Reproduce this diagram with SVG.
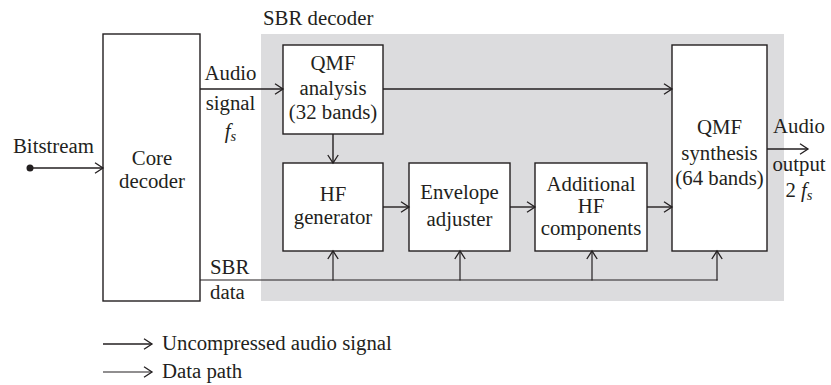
<svg xmlns="http://www.w3.org/2000/svg" width="831" height="385" viewBox="0 0 831 385">
  <style>
    text { font-family: "Liberation Serif", "Times New Roman", serif; font-size: 20.8px; fill: #231f20; }
    .c { text-anchor: middle; }
    .box { fill: #ffffff; stroke: #231f20; stroke-width: 1.4; }
    .ln { fill: none; stroke: #231f20; stroke-width: 1.4; }
    .dl { fill: none; stroke: #231f20; stroke-width: 1.2; }
    .it { font-style: italic; }
    .sub { font-style: italic; font-size: 14.5px; }
  </style>
  <defs>
    <marker id="arr" markerUnits="userSpaceOnUse" markerWidth="12" markerHeight="12" refX="9" refY="6" orient="auto">
      <path d="M1,0.8 L9,6 L1,11.2" fill="none" stroke="#231f20" stroke-width="1.3"/>
    </marker>
  </defs>

  <!-- SBR decoder region -->
  <g id="sbr-region">
    <rect x="261" y="34" width="523" height="267" fill="#dcdcde"/>
    <text x="263" y="25">SBR decoder</text>
  </g>

  <g id="core-decoder">
    <rect class="box" x="103" y="34" width="97" height="267"/>
    <text class="c" x="152" y="165">Core</text>
    <text class="c" x="152" y="188">decoder</text>
  </g>

  <g id="qmf-analysis">
    <rect class="box" x="283" y="45" width="100" height="89"/>
    <text class="c" x="333" y="70">QMF</text>
    <text class="c" x="333" y="95">analysis</text>
    <text class="c" x="333" y="119">(32 bands)</text>
  </g>

  <g id="hf-generator">
    <rect class="box" x="283" y="163" width="100" height="88"/>
    <text class="c" x="333" y="201">HF</text>
    <text class="c" x="333" y="224">generator</text>
  </g>

  <g id="envelope-adjuster">
    <rect class="box" x="409" y="163" width="101" height="88"/>
    <text class="c" x="459.5" y="199">Envelope</text>
    <text class="c" x="459.5" y="226">adjuster</text>
  </g>

  <g id="additional-hf">
    <rect class="box" x="535" y="163" width="112" height="88"/>
    <text class="c" x="591" y="191">Additional</text>
    <text class="c" x="591" y="213">HF</text>
    <text class="c" x="591" y="235">components</text>
  </g>

  <g id="qmf-synthesis">
    <rect class="box" x="672" y="45" width="95" height="206"/>
    <text class="c" x="719.5" y="134">QMF</text>
    <text class="c" x="719.5" y="160">synthesis</text>
    <text class="c" x="719.5" y="185">(64 bands)</text>
  </g>

  <g id="connectors">
    <!-- bitstream input -->
    <circle cx="30" cy="168" r="3.5" fill="#231f20"/>
    <line class="ln" x1="30" y1="168" x2="103" y2="168" marker-end="url(#arr)"/>
    <!-- audio signal path -->
    <line class="ln" x1="200" y1="89" x2="283" y2="89" marker-end="url(#arr)"/>
    <line class="ln" x1="383" y1="89" x2="672" y2="89" marker-end="url(#arr)"/>
    <line class="ln" x1="333" y1="134" x2="333" y2="163" marker-end="url(#arr)"/>
    <line class="ln" x1="383" y1="207" x2="409" y2="207" marker-end="url(#arr)"/>
    <line class="ln" x1="510" y1="207" x2="535" y2="207" marker-end="url(#arr)"/>
    <line class="ln" x1="647" y1="207" x2="672" y2="207" marker-end="url(#arr)"/>
    <line class="ln" x1="767" y1="149" x2="808" y2="149" marker-end="url(#arr)"/>
    <!-- SBR data path -->
    <line class="dl" x1="200" y1="280" x2="717.6" y2="280"/>
    <line class="dl" x1="333" y1="280.6" x2="333" y2="251" marker-end="url(#arr)"/>
    <line class="dl" x1="460" y1="280.6" x2="460" y2="251" marker-end="url(#arr)"/>
    <line class="dl" x1="592" y1="280.6" x2="592" y2="251" marker-end="url(#arr)"/>
    <line class="dl" x1="717" y1="280.6" x2="717" y2="251" marker-end="url(#arr)"/>
  </g>

  <g id="labels">
    <text x="13" y="153">Bitstream</text>
    <text class="c" x="230.5" y="80">Audio</text>
    <text class="c" x="230.5" y="110">signal</text>
    <text class="c" x="230.5" y="138"><tspan class="it">f</tspan><tspan class="sub" dy="3">s</tspan></text>
    <text class="c" x="799" y="133">Audio</text>
    <text class="c" x="799" y="171">output</text>
    <text class="c" x="799" y="197">2 <tspan class="it">f</tspan><tspan class="sub" dy="3">s</tspan></text>
    <text x="210" y="274">SBR</text>
    <text x="210" y="299">data</text>
  </g>

  <g id="legend">
    <line class="ln" x1="103" y1="344" x2="152" y2="344" marker-end="url(#arr)"/>
    <text x="162" y="350">Uncompressed audio signal</text>
    <line class="dl" x1="103" y1="372" x2="152" y2="372" marker-end="url(#arr)"/>
    <text x="162" y="378">Data path</text>
  </g>
</svg>
